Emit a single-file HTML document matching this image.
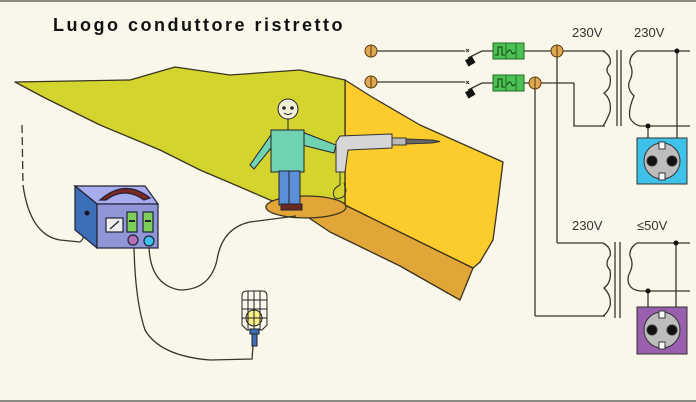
<!DOCTYPE html>
<html><head><meta charset="utf-8"><style>
html,body{margin:0;padding:0;background:#f8f7e9;}
svg{display:block;}
text{font-family:"Liberation Sans",sans-serif;}
</style></head><body>
<svg width="696" height="402" viewBox="0 0 696 402" xmlns="http://www.w3.org/2000/svg">
<rect width="696" height="402" fill="#f8f7e9"/>
<rect x="0" y="0" width="696" height="2" fill="#8a8a80"/>
<rect x="0" y="400" width="696" height="2" fill="#8a8a80"/>
<text x="53" y="31" font-size="18" font-weight="bold" letter-spacing="2.5" fill="#111">Luogo conduttore ristretto</text>

<!-- ground areas -->
<g stroke="#3a3420" stroke-width="1.3" stroke-linejoin="round">
<path d="M300,212 L345,205 L473,268 L460,300 L400,266 L330,232 Z" fill="#e2a638"/>
<path d="M345,80 L372,97 L420,125 L503,162 L497,210 L493,240 L480,262 L473,268 L345,205 Z" fill="#fccb2c"/>
<path d="M15,82 L130,80 L175,67 L230,75 L300,70 L345,80 L345,205 L300,210 L270,200 L240,187 L200,170 L160,150 L100,125 L45,98 Z" fill="#d4d42e"/>
<ellipse cx="306" cy="207" rx="40" ry="11" fill="#e2a638"/>
</g>

<!-- person -->
<g stroke="#223" stroke-width="1">
<path d="M273,132 L250,165 L254,169 L276,142 Z" fill="#6fd3b2"/>
<path d="M302,132 L336,145 L334,153 L302,145 Z" fill="#6fd3b2"/>
<rect x="271" y="130" width="33" height="42" fill="#6fd3b2"/>
<rect x="279" y="171" width="21" height="34" fill="#5b8fd6"/>
<line x1="289" y1="171" x2="289" y2="205"/>
<rect x="281" y="204" width="21" height="6" fill="#6a2a20"/>
<line x1="288" y1="118" x2="288" y2="130"/>
<circle cx="288" cy="109" r="10" fill="#f4f0d8"/>
<circle cx="284" cy="108" r="1.3" fill="#333"/><circle cx="292" cy="108" r="1.3" fill="#333"/>
<path d="M284,113 Q288,116 292,113" fill="none"/>
</g>
<!-- drill -->
<g stroke="#333" stroke-width="1">
<path d="M336,142 L340,136 L392,134 L392,148 L348,150 L345,172 L336,172 Z" fill="#d6d6d6"/>
<rect x="392" y="138" width="14" height="7" fill="#bbb"/>
<path d="M406,139 L432,140 L440,141.5 L432,143 L406,144 Z" fill="#666"/>
<path d="M340,172 L340,185 Q330,190 335,198 Q345,200 346,190 L344,183" fill="none"/>
</g>

<!-- wires -->
<g fill="none" stroke="#3a3628" stroke-width="1.3">
<path d="M22,125 L23,185" stroke-dasharray="8,4"/>
<path d="M23,185 Q30,235 60,240 L80,242 Q86,238 87,215"/>
<path d="M149,246 Q150,285 180,290 Q210,290 217,260 Q222,228 250,222 Q280,218 296,216"/>
<path d="M134,246 Q135,300 145,330 Q160,356 210,360 L252,359 L253,346"/>
</g>

<!-- tester box -->
<g stroke="#223" stroke-width="1.2">
<path d="M75,186 L145,186 L158,204 L97,204 Z" fill="#a7acec"/>
<path d="M75,186 L97,204 L97,248 L75,230 Z" fill="#3d6fb8"/>
<rect x="97" y="204" width="61" height="44" fill="#8f96d8"/>
<path d="M100,200 Q125,178 150,198 L144,200 Q125,186 106,200 Z" fill="#7a2a22"/>
<rect x="106" y="218" width="17" height="14" fill="#eee"/>
<line x1="110" y1="229" x2="119" y2="221"/>
<rect x="127" y="212" width="10" height="20" fill="#7ccf5a"/>
<rect x="143" y="212" width="10" height="20" fill="#7ccf5a"/>
<line x1="129" y1="221" x2="135" y2="221" stroke-width="2"/>
<line x1="145" y1="221" x2="151" y2="221" stroke-width="2"/>
<circle cx="133" cy="240" r="5" fill="#b270b8"/>
<circle cx="149" cy="241" r="5" fill="#3cc0ec"/>
<circle cx="87" cy="213" r="2" fill="#111"/>
</g>

<!-- lamp -->
<g stroke="#222" stroke-width="1">
<circle cx="254" cy="318" r="8" fill="#f6f086"/>
<path d="M242,296 Q242,291 247,291 L262,291 Q267,291 267,296 L267,325 L262,330 L247,330 L242,325 Z" fill="none"/>
<line x1="248" y1="291" x2="248" y2="330"/><line x1="254" y1="291" x2="254" y2="330"/><line x1="260" y1="291" x2="260" y2="330"/>
<line x1="242" y1="300" x2="267" y2="300"/><line x1="242" y1="309" x2="267" y2="309"/><line x1="242" y1="318" x2="267" y2="318"/>
<rect x="250" y="329" width="9" height="5" fill="#3d6fb8"/>
<rect x="252" y="334" width="5" height="12" fill="#3d6fb8"/>
</g>

<!-- circuit -->
<g fill="none" stroke="#3a3628" stroke-width="1.3">
<line x1="371" y1="51" x2="465" y2="51"/>
<line x1="371" y1="82" x2="465" y2="82"/>
<line x1="468" y1="58" x2="482" y2="51"/><line x1="482" y1="51" x2="493" y2="51"/>
<line x1="468" y1="90" x2="482" y2="83"/><line x1="482" y1="83" x2="493" y2="83"/>
<line x1="524" y1="51" x2="605" y2="51"/>
<line x1="524" y1="83" x2="574" y2="83"/>
<path d="M574,83 L574,126 L605,126"/>
<line x1="557" y1="51" x2="557" y2="243"/>
<line x1="535" y1="83" x2="535" y2="316"/>
<path d="M557,243 L603,243"/>
<path d="M535,316 L605,316"/>
<path d="M603,51 Q612,56 610,64 Q604,70 610,76 Q612,88 604,93 Q612,100 610,112 Q606,122 603,126"/>
<line x1="617" y1="50" x2="617" y2="126"/><line x1="621" y1="50" x2="621" y2="126"/>
<path d="M637,51 Q629,56 630,64 Q634,72 630,80 Q626,88 634,96 Q628,110 630,118 Q633,124 640,126"/>
<line x1="637" y1="51" x2="690" y2="51"/>
<line x1="640" y1="126" x2="690" y2="126"/>
<line x1="677" y1="51" x2="677" y2="139"/>
<line x1="648" y1="126" x2="648" y2="139"/>
<path d="M603,243 Q612,248 610,256 Q604,264 610,270 Q612,282 604,288 Q612,296 610,306 Q607,314 603,316"/>
<line x1="615" y1="242" x2="615" y2="318"/><line x1="620" y1="242" x2="620" y2="318"/>
<path d="M637,243 Q629,248 630,256 Q634,264 630,272 Q626,280 630,286 Q633,290 640,291"/>
<line x1="637" y1="243" x2="690" y2="243"/>
<line x1="640" y1="291" x2="690" y2="291"/>
<line x1="676" y1="243" x2="676" y2="308"/>
<line x1="648" y1="291" x2="648" y2="308"/>
</g>
<g fill="#111">
<path d="M466,49 l3,3 M469,49 l-3,3" stroke="#333"/>
<path d="M466,81 l3,3 M469,81 l-3,3" stroke="#333"/>
<rect x="466" y="58" width="8" height="7" transform="rotate(-30 470 61)"/>
<rect x="466" y="90" width="8" height="7" transform="rotate(-30 470 93)"/>
<circle cx="677" cy="51" r="2.5"/><circle cx="648" cy="126" r="2.5"/>
<circle cx="676" cy="243" r="2.5"/><circle cx="648" cy="291" r="2.5"/>
</g>
<g stroke="#1f6a24" stroke-width="1">
<rect x="493" y="43" width="31" height="16" fill="#4cc153"/>
<rect x="493" y="75" width="31" height="16" fill="#4cc153"/>
<line x1="506" y1="43" x2="506" y2="59"/><line x1="516" y1="43" x2="516" y2="59"/>
<line x1="506" y1="75" x2="506" y2="91"/><line x1="516" y1="75" x2="516" y2="91"/>
<path d="M495,55 L498,55 L498,47 L502,47 L502,55 L505,55 M507,53 Q510,47 512,53 Q513,55 515,52" fill="none" stroke="#0e3a10"/>
<path d="M495,87 L498,87 L498,79 L502,79 L502,87 L505,87 M507,85 Q510,79 512,85 Q513,87 515,84" fill="none" stroke="#0e3a10"/>
</g>
<g stroke="#5a3a10" stroke-width="1">
<circle cx="371" cy="51" r="6" fill="#e0a850"/><line x1="371" y1="45" x2="371" y2="57"/>
<circle cx="371" cy="82" r="6" fill="#e0a850"/><line x1="371" y1="76" x2="371" y2="88"/>
<circle cx="557" cy="51" r="6" fill="#e0a850"/><line x1="557" y1="45" x2="557" y2="57"/>
<circle cx="535" cy="83" r="6" fill="#e0a850"/><line x1="535" y1="77" x2="535" y2="89"/>
</g>
<g stroke="#333" stroke-width="1">
<rect x="637" y="138" width="50" height="46" fill="#3ec2ea"/>
<circle cx="662" cy="161" r="18" fill="#bdbdbd"/>
<rect x="659" y="142" width="6" height="7" fill="#fff"/><rect x="659" y="173" width="6" height="7" fill="#fff"/>
<circle cx="652" cy="161" r="5" fill="#111"/><circle cx="672" cy="161" r="5" fill="#111"/>
<rect x="637" y="307" width="50" height="47" fill="#9a5fae"/>
<circle cx="662" cy="330" r="18" fill="#bdbdbd"/>
<rect x="659" y="311" width="6" height="7" fill="#fff"/><rect x="659" y="342" width="6" height="7" fill="#fff"/>
<circle cx="652" cy="330" r="5" fill="#111"/><circle cx="672" cy="330" r="5" fill="#111"/>
</g>
<g font-size="13" fill="#333">
<text x="572" y="37">230V</text><text x="634" y="37">230V</text>
<text x="572" y="230">230V</text><text x="637" y="230">≤50V</text>
</g>
</svg>
</body></html>
